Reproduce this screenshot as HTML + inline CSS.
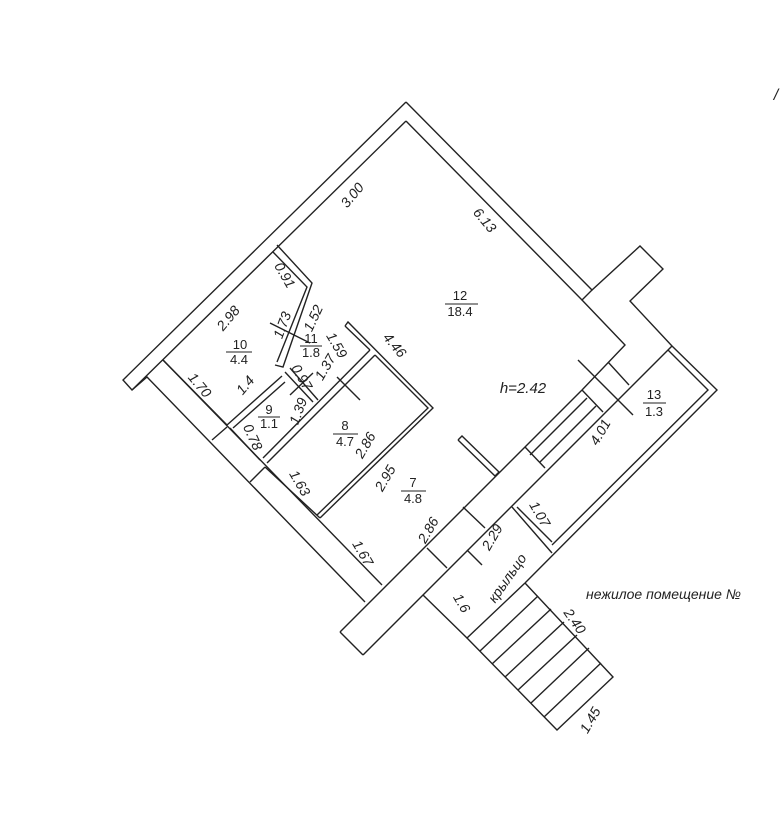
<!DOCTYPE html>
<html><head><meta charset="utf-8"><style>
html,body{margin:0;padding:0;background:#fff}
svg{display:block}
text{font-family:"Liberation Sans",sans-serif;font-size:14px;fill:#222;font-style:italic;text-anchor:middle}
.n{font-style:normal;font-size:13px}
</style></head><body>
<svg width="782" height="822" viewBox="0 0 782 822" xmlns="http://www.w3.org/2000/svg">
<g fill="none" stroke="#222" stroke-width="1.4">
<polyline points="406,102 123,380 132,390 406,121"/>
<polyline points="406,102 592,290 640,246 663,269 630,301 672,346 717,390 525,583"/>
<polyline points="406,121 582,300 592,290"/>
<polyline points="582,300 625,345 582,390"/>
<polyline points="668,350 708,390 552,545"/>
<line x1="512" y1="507" x2="552" y2="553"/>
<line x1="517" y1="507" x2="552" y2="542"/>
<line x1="340" y1="632" x2="582" y2="390"/>
<line x1="363" y1="655" x2="672" y2="346"/>
<line x1="340" y1="632" x2="363" y2="655"/>
<line x1="582" y1="390" x2="603" y2="412"/>
<line x1="525" y1="447" x2="545" y2="468"/>
<line x1="530" y1="455" x2="587" y2="398"/>
<line x1="540" y1="462" x2="596" y2="406"/>
<line x1="608" y1="362" x2="629" y2="385"/>
<line x1="578" y1="360" x2="633" y2="415"/>
<line x1="463" y1="507" x2="485" y2="528"/>
<line x1="427" y1="548" x2="447" y2="568"/>
<line x1="467" y1="550" x2="482" y2="565"/>
<polyline points="458,440 462,436 499,472 495,476 458,440"/>
<polyline points="423,595 467,638 525,583"/>
<polyline points="467,638 557,730 613,677 525,583"/>
<line x1="480" y1="651" x2="538" y2="596"/>
<line x1="492" y1="664" x2="551" y2="609"/>
<line x1="505" y1="677" x2="564" y2="622"/>
<line x1="518" y1="690" x2="577" y2="635"/>
<line x1="531" y1="703" x2="589" y2="648"/>
<line x1="544" y1="717" x2="601" y2="663"/>
<polyline points="132,390 147,377 365,602"/>
<polyline points="163,360 382,585"/>
<line x1="163" y1="360" x2="227" y2="425"/>
<line x1="212" y1="440" x2="227" y2="427"/>
<line x1="250" y1="482" x2="265" y2="467"/>
<polyline points="230,428 260,460"/>
<polyline points="265,467 320,518"/>
<polyline points="227,425 282,376"/>
<polyline points="233,428 285,382"/>
<polyline points="285,372 313,402"/>
<polyline points="290,368 318,400"/>
<line x1="290" y1="395" x2="313" y2="373"/>
<line x1="263" y1="458" x2="370" y2="350"/>
<line x1="267" y1="463" x2="375" y2="355"/>
<polyline points="345,326 348,322 433,408 320,518"/>
<polyline points="345,326 370,350"/>
<polyline points="375,355 428,408 317,515"/>
<polyline points="277,245 312,283 283,367 275,365"/>
<polyline points="273,252 307,287 277,362"/>
<line x1="270" y1="323" x2="310" y2="343"/>
<line x1="337" y1="377" x2="360" y2="400"/>
</g>
<g>
<text x="352" y="200" transform="rotate(-50 352 195)">3.00</text>
<text x="485" y="225" transform="rotate(50 485 220)">6.13</text>
<text x="228" y="323" transform="rotate(-50 228 318)">2.98</text>
<text x="285" y="280" transform="rotate(60 285 275)">0.91</text>
<text x="282" y="330" transform="rotate(-70 282 325)">1.73</text>
<text x="313" y="323" transform="rotate(-65 313 318)">1.52</text>
<text x="337" y="350" transform="rotate(60 337 345)">1.59</text>
<text x="395" y="350" transform="rotate(50 395 345)">4.46</text>
<text x="200" y="390" transform="rotate(50 200 385)">1.70</text>
<text x="245" y="390" transform="rotate(-50 245 385)">1.4</text>
<text x="302" y="382" transform="rotate(60 302 377)">0.97</text>
<text x="325" y="372" transform="rotate(-60 325 367)">1.37</text>
<text x="298" y="416" transform="rotate(-70 298 411)">1.39</text>
<text x="253" y="442" transform="rotate(65 253 437)">0.78</text>
<text x="365" y="450" transform="rotate(-60 365 445)">2.86</text>
<text x="385" y="483" transform="rotate(-60 385 478)">2.95</text>
<text x="300" y="488" transform="rotate(60 300 483)">1.63</text>
<text x="363" y="558" transform="rotate(60 363 553)">1.67</text>
<text x="428" y="535" transform="rotate(-60 428 530)">2.86</text>
<text x="492" y="542" transform="rotate(-60 492 537)">2.29</text>
<text x="540" y="519" transform="rotate(60 540 514)">1.07</text>
<text x="600" y="437" transform="rotate(-60 600 432)">4.01</text>
<text x="507" y="583" transform="rotate(-55 507 578)">крыльцо</text>
<text x="462" y="608" transform="rotate(60 462 603)">1.6</text>
<text x="575" y="626" transform="rotate(55 575 621)">2.40</text>
<text x="590" y="725" transform="rotate(-60 590 720)">1.45</text>
<text x="523" y="393" style="font-size:15px">h=2.42</text>
<text x="586" y="599" style="font-size:14px;text-anchor:start">нежилое помещение №</text>
<text x="776" y="100" style="font-size:16px">/</text>
</g>
<g>
<text class="n" x="460" y="300">12</text><line x1="445" y1="304" x2="478" y2="304" stroke="#222"/><text class="n" x="460" y="316">18.4</text>
<text class="n" x="240" y="349">10</text><line x1="226" y1="352" x2="252" y2="352" stroke="#222"/><text class="n" x="239" y="364">4.4</text>
<text class="n" x="311" y="343">11</text><line x1="300" y1="346" x2="322" y2="346" stroke="#222"/><text class="n" x="311" y="357">1.8</text>
<text class="n" x="269" y="414">9</text><line x1="258" y1="417" x2="280" y2="417" stroke="#222"/><text class="n" x="269" y="428">1.1</text>
<text class="n" x="345" y="430">8</text><line x1="333" y1="434" x2="358" y2="434" stroke="#222"/><text class="n" x="345" y="446">4.7</text>
<text class="n" x="413" y="487">7</text><line x1="401" y1="491" x2="426" y2="491" stroke="#222"/><text class="n" x="413" y="503">4.8</text>
<text class="n" x="654" y="399">13</text><line x1="643" y1="403" x2="666" y2="403" stroke="#222"/><text class="n" x="654" y="416">1.3</text>
</g>
</svg>
</body></html>
